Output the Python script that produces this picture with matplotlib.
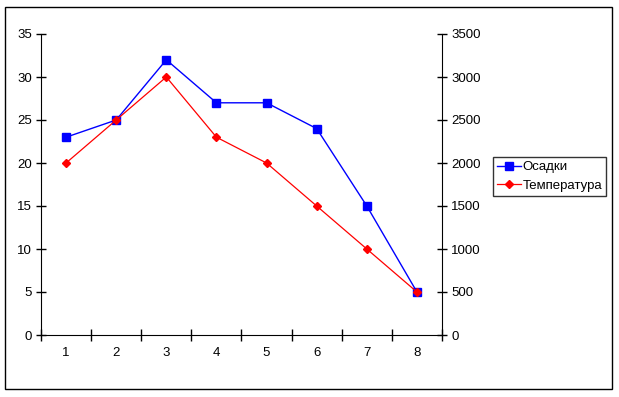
import numpy as np
import matplotlib.pyplot as plt
from matplotlib.patches import Rectangle
from matplotlib.lines import Line2D

plt.rcParams['font.family'] = ['Liberation Sans', 'DejaVu Sans']
plt.rcParams['font.size'] = 9.5

# данные
categories = [1, 2, 3, 4, 5, 6, 7, 8]
osadki = [23, 25, 32, 27, 27, 24, 15, 5]
temperatura = [2000, 2500, 3000, 2300, 2000, 1500, 1000, 500]
left_ticks = [0, 5, 10, 15, 20, 25, 30, 35]
right_ticks = [0, 500, 1000, 1500, 2000, 2500, 3000, 3500]

fig = plt.figure(figsize=(6.19, 3.97), dpi=100)
W, H = 619, 397

# рамка вокруг диаграммы
fig.patches.append(Rectangle((5 / W, 1 - 389 / H), 607 / W, 382 / H,
                             transform=fig.transFigure, fill=False,
                             edgecolor='black', linewidth=1))

ax = fig.add_axes([41 / W, 1 - 335 / H, 401 / W, 301 / H])
ax2 = ax.twinx()

x = np.array(categories)
ax.plot(x, osadki, color='#0000ff', marker='s', markersize=6,
        linewidth=1, label='Осадки')
ax2.plot(x, temperatura, color='#ff0000', marker='D', markersize=4.5,
         linewidth=0.9, label='Температура')

ax.set_xlim(0.5, 8.5)
ax.set_ylim(0, 35)
ax2.set_ylim(0, 3500)
ax.set_yticks(left_ticks)
ax2.set_yticks(right_ticks)

ax.set_xticks(np.arange(0.5, 9, 1))
ax.set_xticklabels([])
ax.set_xticks(x, minor=True)
ax.set_xticklabels([str(c) for c in categories], minor=True)
ax.tick_params(axis='x', which='major', direction='inout', length=8, width=1)
ax.tick_params(axis='x', which='minor', length=0, pad=9)
ax.tick_params(axis='y', direction='inout', length=7, width=1, pad=3)
ax2.tick_params(axis='y', direction='inout', length=7, width=1, pad=3)

for a in (ax, ax2):
    a.spines['top'].set_visible(False)
    a.set_facecolor('none')
ax.spines['right'].set_visible(False)
ax2.spines['left'].set_visible(False)
ax2.spines['bottom'].set_visible(False)

h1 = Line2D([], [], color='#0000ff', marker='s', markersize=6, linewidth=1)
h2 = Line2D([], [], color='#ff0000', marker='D', markersize=4.5, linewidth=0.9)
leg = fig.legend([h1, h2], ['Осадки', 'Температура'],
                 loc='upper left', bbox_to_anchor=(493 / W, 1 - 157 / H),
                 frameon=True, fancybox=False, edgecolor='black',
                 borderpad=0.3, handlelength=1.8, handletextpad=0.15,
                 labelspacing=0.5, borderaxespad=0)
leg.get_frame().set_linewidth(1)

fig.savefig('out.png', dpi=100)
